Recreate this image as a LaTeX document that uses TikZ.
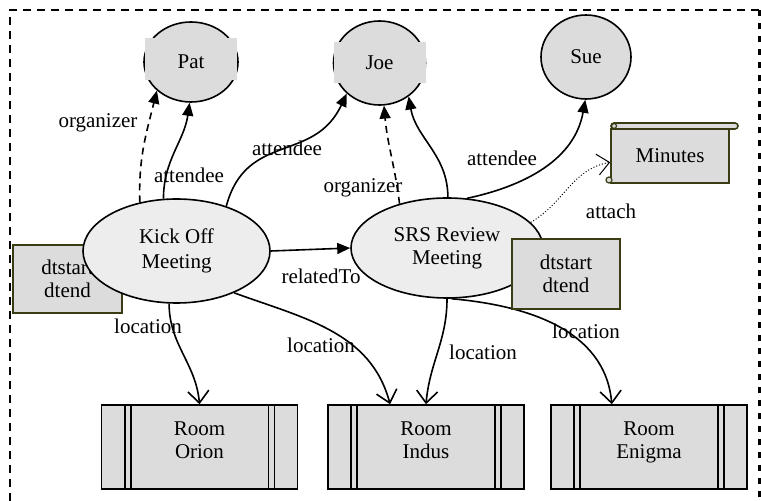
\documentclass[tikz,border=0pt]{standalone}
\usepackage{fontspec}
\setmainfont{Liberation Serif}
\usetikzlibrary{arrows.meta,shapes.geometric,calc}
\definecolor{boxgray}{RGB}{220,220,220}
\definecolor{meetfill}{RGB}{237,237,237}
\definecolor{boxedge}{RGB}{60,60,20}
\tikzset{
  person/.style={ellipse, draw, fill=boxgray, inner sep=0pt},
  meeting/.style={ellipse, draw, fill=meetfill, inner sep=0pt, align=center},
  timebox/.style={rectangle, draw=boxedge, fill=boxgray, inner sep=0pt, align=center},
  room/.style={rectangle, draw, fill=boxgray, inner sep=0pt, minimum width=196pt, minimum height=84pt},
  roomtext/.style={inner sep=0pt, align=center},
  tri/.style={-{Triangle[length=13pt,width=11pt]}},
  barb/.style={-{Straight Barb[length=12pt,width=21pt]}},
  lbl/.style={inner sep=0pt},
  cover/.style={fill=boxgray, draw=none}
}
\begin{document}
\begin{tikzpicture}[x=1pt,y=1pt,line width=1.6pt,font=\fontsize{21}{23}\selectfont]
\useasboundingbox (0,0) rectangle (761,501);
% frame
\draw[line width=1.3pt, dash pattern=on 8pt off 6pt] (10,0) -- (10,491) -- (759,491);
\draw[line width=3pt, dash pattern=on 6pt off 7pt] (759,491) -- (759,0);

% persons
\node[person, minimum width=94pt, minimum height=80pt] (pat) at (191,439) {};
\fill[cover] (145,421) rectangle (237,463);
\node at (pat) {Pat};
\node[person, minimum width=92pt, minimum height=84pt] (joe) at (379.5,438) {};
\fill[cover] (334,418) rectangle (426,459);
\node at (joe) {Joe};
\node[person, minimum width=90pt, minimum height=84pt] (sue) at (586,444) {Sue};

% time boxes and meetings
\node[timebox, minimum width=109pt, minimum height=68pt] (dt1) at (67.5,222) {dtstart\\dtend};
\node[meeting, minimum width=187pt, minimum height=104pt] (kick) at (176.5,250) {Kick Off\\[2pt]Meeting};
\node[meeting, minimum width=192pt, minimum height=100pt] (srs) at (447,253) {SRS Review\\Meeting};

% minutes scroll
\node[rectangle, draw=boxedge, fill=boxgray, minimum width=118pt, minimum height=54pt, inner sep=0pt] (minutes) at (670,345) {Minutes};
\draw[boxedge, fill=boxgray, rounded corners=3pt] (611,372) rectangle (738,378);
\draw[boxedge, line width=1.2pt] (614,375) circle (2.5pt);
\draw[boxedge, fill=boxgray, line width=1.2pt] (609,321) circle (3pt);

% rooms
\node[room] (orion) at (199.5,54) {};
\node[room] (indus) at (426,54) {};
\node[room] (enigma) at (649,54) {};
\foreach \r in {orion,indus,enigma}{
  \draw ($(\r.north west)+(24,0)$) -- ($(\r.south west)+(24,0)$);
  \draw ($(\r.north west)+(30,0)$) -- ($(\r.south west)+(30,0)$);
  \draw ($(\r.north east)+(-24,0)$) -- ($(\r.south east)+(-24,0)$);
  \draw ($(\r.north east)+(-30,0)$) -- ($(\r.south east)+(-30,0)$);
}
\node[roomtext] (torion) at ($(orion)+(0,5)$) {Room\strut\\Orion\strut};
\node[roomtext] (tindus) at ($(indus)+(0,5)$) {Room\strut\\Indus\strut};
\node[roomtext] (tenigma) at ($(enigma)+(0,5)$) {Room\strut\\Enigma\strut};

% edges
\draw[tri, dashed, dash pattern=on 7pt off 5pt] (kick.127) to[out=92,in=256] (pat.220);
\draw[tri] (kick.104) to[out=90,in=262] (pat.268);
\draw[tri] (kick.42) to[out=75,in=245, looseness=1.2] (joe.223);
\draw[tri, dashed, dash pattern=on 7pt off 5pt] (srs.137) to[out=97,in=275] (joe.276);
\draw[tri] (srs.89) to[out=90,in=280] (joe.311);
\draw[tri] (srs.68) to[out=12,in=260] (sue.269);
\draw[barb, dotted, line width=1pt] (srs.17) to[out=30,in=190] (minutes.186);
\draw[tri] (kick.east) -- (srs.west);
\draw[barb] (kick.262) to[out=-90,in=95] (orion.north);
\draw[barb] (kick.324) to[out=-20,in=105] (indus.130.6);
\draw[barb] (srs.270) to[out=-90,in=85] (indus.north);
\draw[barb] (srs.275) to[out=-5,in=95] (enigma.131.4);

\node[timebox, minimum width=108pt, minimum height=70pt] (dt2) at (566,227) {dtstart\\dtend};

% labels
\node[lbl] (l1) at (98,378) {organizer};
\node[lbl] (l2) at (189,326) {attendee};
\node[lbl] (l3) at (287,353) {attendee};
\node[lbl] (l4) at (363,313) {organizer};
\node[lbl] (l5) at (502,343) {attendee};
\node[lbl] (l6) at (611,290) {attach};
\node[lbl] (l7) at (321,225) {relatedTo};
\node[lbl] (l8) at (148,175) {location};
\node[lbl] (l9) at (321,156) {location};
\node[lbl] (l10) at (483,149) {location};
\node[lbl] (l11) at (586,170) {location};
\end{tikzpicture}
\end{document}
